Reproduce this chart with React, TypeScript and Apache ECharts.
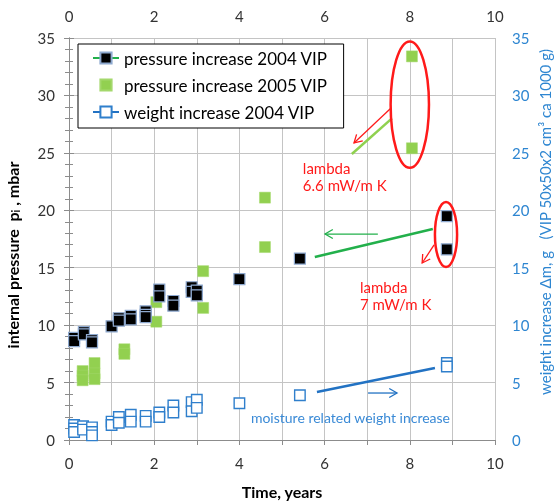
import React, { useEffect, useRef } from "react";
import * as echarts from "echarts";

const FONT = "Lato, 'Noto Sans', sans-serif";

// Internal pressure (mbar) over time (years), 2004 VIP
const p2004Time = [0.12, 0.12, 0.35, 0.35, 0.54, 0.54, 1.0, 1.17, 1.17, 1.45, 1.45, 1.8, 1.8, 1.8, 2.12, 2.12, 2.45, 2.45, 2.88, 2.88, 3.0, 3.0, 4.0, 5.42, 8.87, 8.87];
const p2004Value = [8.9, 8.6, 9.4, 9.2, 8.7, 8.5, 9.9, 10.6, 10.4, 10.8, 10.5, 11.2, 10.9, 10.7, 13.1, 12.5, 12.1, 11.7, 13.3, 12.9, 13.0, 12.6, 14.0, 15.8, 19.5, 16.6];

// Internal pressure (mbar) over time (years), 2005 VIP
const p2005Time = [0.32, 0.32, 0.32, 0.6, 0.6, 0.6, 1.3, 1.3, 2.05, 2.05, 3.15, 3.15, 4.6, 4.6, 8.05, 8.05];
const p2005Value = [6.0, 5.6, 5.2, 6.7, 5.8, 5.3, 7.9, 7.5, 12.0, 10.3, 14.7, 11.5, 21.1, 16.8, 33.4, 25.4];

// Weight increase (g) over time (years), 2004 VIP
const w2004Time = [0.12, 0.12, 0.12, 0.33, 0.33, 0.54, 0.54, 0.54, 1.0, 1.0, 1.17, 1.17, 1.45, 1.45, 1.8, 1.8, 2.12, 2.12, 2.45, 2.45, 2.88, 2.88, 3.0, 3.0, 4.0, 5.42, 8.87, 8.87];
const w2004Value = [1.3, 1.0, 0.7, 1.2, 0.9, 1.1, 0.7, 0.4, 1.6, 1.3, 2.0, 1.5, 2.2, 1.6, 2.1, 1.6, 2.4, 2.0, 3.0, 2.4, 3.3, 2.5, 3.5, 2.8, 3.2, 3.9, 6.7, 6.4];

// Trend lines (drawn annotation lines)
const trend2005Time = [6.64, 7.58];
const trend2005Value = [24.9, 28.0];
const trend2004Time = [5.77, 8.54];
const trend2004Value = [15.93, 18.37];
const trendWeightTime = [5.82, 8.59];
const trendWeightValue = [4.18, 6.27];

const SERIES_NAMES = ["pressure increase 2004 VIP", "pressure increase 2005 VIP", "weight increase 2004 VIP"];

const zip = (xs: number[], ys: number[]) => xs.map((x, i) => [x, ys[i]]);

const GREEN_LINE = "#22b04b";
const BLUE = "#2272c3";
const RED = "#ff1a1a";

export default function App() {
  const ref = useRef<HTMLDivElement>(null);
  useEffect(() => {
    const chart = echarts.init(ref.current!, null, { renderer: "svg" });
    const gray = "#8c8c8c";
    const grid = "#c4c4c4";
    chart.setOption({
      animation: false,
      textStyle: { fontFamily: FONT },
      grid: { left: 69, right: 64, top: 38, bottom: 62, containLabel: false, outerBoundsMode: "none" },
      legend: {
        orient: "vertical",
        left: 78,
        top: 44,
        backgroundColor: "#fff",
        borderColor: "#000",
        borderWidth: 1,
        borderRadius: 0,
        padding: [5, 16, 7, 14],
        itemGap: 9,
        itemWidth: 26,
        itemHeight: 14,
        textStyle: { fontSize: 17, color: "#000", fontFamily: FONT, lineHeight: 18 },
        data: [
          { name: SERIES_NAMES[0], lineStyle: { color: GREEN_LINE, width: 2, opacity: 1 } },
          { name: SERIES_NAMES[1], lineStyle: { opacity: 0 } },
          { name: SERIES_NAMES[2], lineStyle: { color: BLUE, width: 2, opacity: 1 } },
        ],
      },
      xAxis: [
        {
          type: "value",
          position: "bottom",
          min: 0,
          max: 10,
          interval: 1,
          name: "Time, years",
          nameLocation: "middle",
          nameGap: 43,
          nameMoveOverlap: false,
          nameTextStyle: { fontSize: 16, fontWeight: "bold", color: "#000", fontFamily: FONT },
          axisLine: { show: true, lineStyle: { color: gray } },
          axisTick: { show: true, length: 5, lineStyle: { color: gray } },
          splitLine: { show: true, lineStyle: { color: grid } },
          axisLabel: {
            fontSize: 15,
            color: "#333",
            margin: 15,
            fontFamily: FONT,
            formatter: (v: number) => (v % 2 === 0 ? String(v) : ""),
          },
        },
        {
          type: "value",
          position: "top",
          min: 0,
          max: 10,
          interval: 2,
          axisLine: { show: false },
          axisTick: { show: false },
          splitLine: { show: false },
          axisLabel: { fontSize: 15, color: "#333", margin: 15, fontFamily: FONT },
        },
      ],
      yAxis: [
        {
          type: "value",
          position: "left",
          min: 0,
          max: 35,
          interval: 5,
          name: "internal pressure  p{sub|i} , mbar",
          nameLocation: "middle",
          nameGap: 48,
          nameRotate: 90,
          nameMoveOverlap: false,
          nameTextStyle: {
            fontSize: 16,
            fontWeight: "bold",
            color: "#000",
            fontFamily: FONT,
            padding: [0, 32, 0, 0],
            rich: { sub: { fontSize: 11, fontWeight: "bold", color: "#000", fontFamily: FONT, verticalAlign: "bottom", padding: [6, 0, 0, 0] } },
          },
          axisLine: { show: true, lineStyle: { color: gray } },
          axisTick: { show: true, length: 5, lineStyle: { color: gray } },
          minorTick: { show: true, splitNumber: 5, length: 4, lineStyle: { color: gray } },
          splitLine: { show: true, lineStyle: { color: grid } },
          axisLabel: { fontSize: 15, color: "#333", margin: 14, fontFamily: FONT },
        },
        {
          type: "value",
          position: "right",
          min: 0,
          max: 35,
          interval: 5,
          name: "weight increase Δm, g   (VIP 50x50x2 cm³ ca 1000 g)",
          nameLocation: "middle",
          nameGap: 42,
          nameRotate: 90,
          nameMoveOverlap: false,
          nameTextStyle: { fontSize: 15, color: "#2e86d1", fontFamily: FONT, padding: [0, 0, 0, 34] },
          axisLine: { show: true, lineStyle: { color: gray } },
          axisTick: { show: true, length: 5, lineStyle: { color: gray } },
          minorTick: { show: true, splitNumber: 5, length: 4, lineStyle: { color: gray } },
          splitLine: { show: false },
          axisLabel: { fontSize: 15, color: "#2e86d1", margin: 17, fontFamily: FONT },
        },
      ],
      series: [
        {
          name: SERIES_NAMES[0],
          type: "line",
          xAxisIndex: 0,
          yAxisIndex: 0,
          data: zip(p2004Time, p2004Value),
          symbol: "rect",
          symbolSize: 11,
          lineStyle: { opacity: 0, color: GREEN_LINE },
          itemStyle: { color: "#000", borderColor: "#8ea9cf", borderWidth: 1.2 },
          z: 5,
        },
        {
          name: SERIES_NAMES[1],
          type: "line",
          xAxisIndex: 0,
          yAxisIndex: 0,
          data: zip(p2005Time, p2005Value),
          symbol: "rect",
          symbolSize: 11,
          lineStyle: { opacity: 0 },
          itemStyle: { color: "#92d050", borderColor: "#a4d86c", borderWidth: 0.5 },
          z: 4,
        },
        {
          name: SERIES_NAMES[2],
          type: "line",
          xAxisIndex: 0,
          yAxisIndex: 1,
          data: zip(w2004Time, w2004Value),
          symbol: "rect",
          symbolSize: 10.5,
          lineStyle: { opacity: 0, color: BLUE },
          itemStyle: { color: "#fff", borderColor: "#2f7fcc", borderWidth: 1.4 },
          z: 4,
        },
        {
          name: "trend 2005",
          type: "line",
          data: zip(trend2005Time, trend2005Value),
          symbol: "none",
          lineStyle: { color: "#8fd14f", width: 2.5 },
          z: 3,
        },
        {
          name: "trend 2004",
          type: "line",
          data: zip(trend2004Time, trend2004Value),
          symbol: "none",
          lineStyle: { color: GREEN_LINE, width: 2.5 },
          z: 3,
        },
        {
          name: "trend weight",
          type: "line",
          yAxisIndex: 1,
          data: zip(trendWeightTime, trendWeightValue),
          symbol: "none",
          lineStyle: { color: BLUE, width: 2.5 },
          z: 3,
        },
      ],
    });

    const px = (p: number[]) => chart.convertToPixel({ xAxisIndex: 0, yAxisIndex: 0 }, p) as number[];
    const ellipse = (cx: number, cy: number, rx: number, ry: number) => {
      const c = px([cx, cy]);
      const e = px([cx + rx, cy + ry]);
      return {
        type: "ellipse",
        shape: { cx: c[0], cy: c[1], rx: Math.abs(e[0] - c[0]), ry: Math.abs(c[1] - e[1]) },
        style: { fill: "none", stroke: RED, lineWidth: 2.5 },
        z: 10,
      };
    };
    const arrow = (from: number[], to: number[], color: string) => {
      const a = px(from);
      const b = px(to);
      const dx = b[0] - a[0];
      const dy = b[1] - a[1];
      const len = Math.hypot(dx, dy);
      const ux = dx / len;
      const uy = dy / len;
      const L = 9;
      const ang = Math.PI / 6;
      const h1 = [b[0] - L * (ux * Math.cos(ang) - uy * Math.sin(ang)), b[1] - L * (uy * Math.cos(ang) + ux * Math.sin(ang))];
      const h2 = [b[0] - L * (ux * Math.cos(-ang) - uy * Math.sin(-ang)), b[1] - L * (uy * Math.cos(-ang) + ux * Math.sin(-ang))];
      return [
        { type: "line", shape: { x1: a[0], y1: a[1], x2: b[0], y2: b[1] }, style: { stroke: color, lineWidth: 1.3 }, z: 10 },
        { type: "polyline", shape: { points: [h1, b, h2] }, style: { stroke: color, lineWidth: 1.3, fill: "none" }, z: 10 },
      ];
    };
    const label = (at: number[], text: string, color: string, fontSize: number, lineHeight: number) => {
      const p = px(at);
      return {
        type: "text",
        x: p[0],
        y: p[1],
        style: { text, fill: color, fontSize, lineHeight, fontFamily: FONT, align: "left", verticalAlign: "middle" },
        z: 10,
      };
    };

    chart.setOption({
      graphic: [
        ellipse(8.0, 29.2, 0.45, 5.5),
        ellipse(8.85, 17.9, 0.26, 2.83),
        ...arrow([7.56, 28.9], [6.69, 25.86], RED),
        ...arrow([8.57, 16.98], [8.29, 15.41], RED),
        ...arrow([7.25, 17.93], [6.01, 17.93], GREEN_LINE),
        ...arrow([7.02, 4.09], [7.7, 4.09], BLUE),
        label([5.49, 22.9], "lambda\n6.6 mW/m K", RED, 15, 17),
        label([6.83, 12.57], "lambda\n7 mW/m K", RED, 15, 17),
        label([4.27, 2.0], "moisture related weight increase", "#3a8ad6", 14, 16),
      ],
    });

    return () => chart.dispose();
  }, []);
  return <div ref={ref} style={{ position: "fixed", left: 0, top: 0, width: 559, height: 502 }} />;
}
